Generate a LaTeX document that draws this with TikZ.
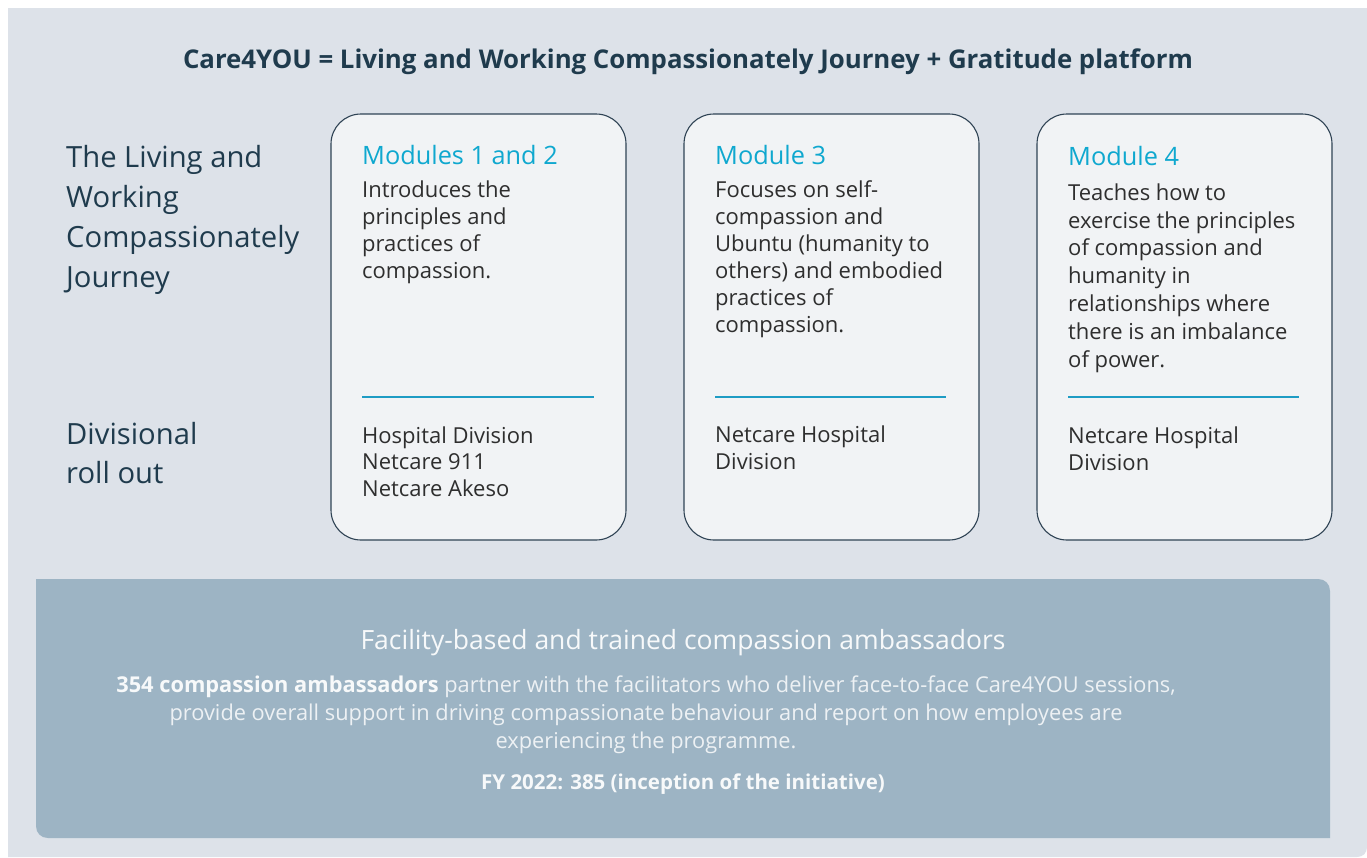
\documentclass[tikz,border=0pt]{standalone}
\usepackage{fontspec}
\setmainfont{Open Sans}
\definecolor{bgc}{HTML}{DDE2E9}
\definecolor{cardfill}{HTML}{F1F3F5}
\definecolor{cardline}{HTML}{2F4354}
\definecolor{navy}{HTML}{1F3B4D}
\definecolor{bodytext}{HTML}{2E2E2E}
\definecolor{cyanc}{HTML}{0FA8CF}
\definecolor{sepc}{HTML}{1E9CC4}
\definecolor{panelc}{HTML}{9DB4C4}
\definecolor{paneltext}{HTML}{F7F9FA}
\colorlet{lighttext}{white!82!panelc}
\tikzset{
  card/.style={draw=cardline, line width=1.1pt, fill=cardfill, rounded corners=30pt},
  sepline/.style={draw=sepc, line width=1.2pt},
  lefttxt/.style={anchor=base west, inner sep=0pt, align=left, text=navy, font=\fontsize{29.2}{40}\selectfont},
  modtitle/.style={anchor=base west, inner sep=0pt, text=cyanc, font=\fontsize{25.3}{28}\selectfont},
  bodytxt/.style={anchor=base west, inner sep=0pt, align=left, text=bodytext, font=\fontsize{22}{27}\selectfont},
  bodytxtb/.style={anchor=base west, inner sep=0pt, align=left, text=bodytext, font=\fontsize{22}{27.8}\selectfont},
}
\begin{document}
\begin{tikzpicture}[x=1pt,y=-1pt]
\useasboundingbox (0,0) rectangle (1367,857);
% background
\fill[bgc] (8,8) -- (1367,8) -- (1367,847) .. controls (1367,853) and (1363,857) .. (1357,857) -- (8,857) -- cycle;
% title
\node[anchor=base, inner sep=0pt, text=navy, font=\fontsize{25.8}{30}\selectfont\bfseries] (title) at (688,68)
  {Care4YOU = Living and Working Compassionately Journey + Gratitude platform};
% left labels (base anchor = baseline of last line)
\node[lefttxt] (lwc) at (66,287) {The Living and\\Working\\Compassionately\\Journey};
\node[lefttxt, font=\fontsize{29.2}{39}\selectfont] (div) at (66,483) {Divisional\\roll out};
% cards
\draw[card] (331,114) rectangle (626,540);
\draw[card] (684,114) rectangle (979,540);
\draw[card] (1037,114) rectangle (1332,540);
% separators
\draw[sepline] (362,397) -- (594,397);
\draw[sepline] (715,397) -- (946,397);
\draw[sepline] (1068,397) -- (1299,397);
% card 1
\node[modtitle] (m1t) at (362,164) {Modules 1 and 2};
\node[bodytxt] (m1b) at (362,278) {Introduces the\\principles and\\practices of\\compassion.};
\node[bodytxt, font=\fontsize{22}{26.5}\selectfont] (m1d) at (362,496) {Hospital Division\\Netcare 911\\Netcare Akeso};
% card 2
\node[modtitle] (m2t) at (715,164) {Module 3};
\node[bodytxt] (m2b) at (715,332) {Focuses on self-\\compassion and\\Ubuntu (humanity to\\others) and embodied\\practices of\\compassion.};
\node[bodytxt] (m2d) at (715,469) {Netcare Hospital\\Division};
% card 3
\node[modtitle] (m3t) at (1068,165) {Module 4};
\node[bodytxtb] (m3b) at (1068,367) {Teaches how to\\exercise the principles\\of compassion and\\humanity in\\relationships where\\there is an imbalance\\of power.};
\node[bodytxt] (m3d) at (1068,470) {Netcare Hospital\\Division};
% bottom panel
\fill[panelc] (36,579) -- (1318,579) .. controls (1325,579) and (1330,584) .. (1330,591) -- (1330,838) -- (48,838) .. controls (41,838) and (36,833) .. (36,826) -- cycle;
\node[anchor=base, inner sep=0pt, text=paneltext, font=\fontsize{26.5}{30}\selectfont] (ph) at (683,649)
  {Facility-based and trained compassion ambassadors};
\node[anchor=base, inner sep=0pt, align=center, text=lighttext, font=\fontsize{21.8}{28}\selectfont] (pb) at (646,748)
  {\textcolor{paneltext}{\bfseries 354 compassion ambassadors} partner with the facilitators who deliver face-to-face Care4YOU sessions,\\
   provide overall support in driving compassionate behaviour and report on how employees are\\
   experiencing the programme.};
\node[anchor=base, inner sep=0pt, text=paneltext, font=\fontsize{20.5}{24}\selectfont\bfseries] (fy) at (683,789)
  {FY 2022: 385 (inception of the initiative)};
\end{tikzpicture}
\end{document}
